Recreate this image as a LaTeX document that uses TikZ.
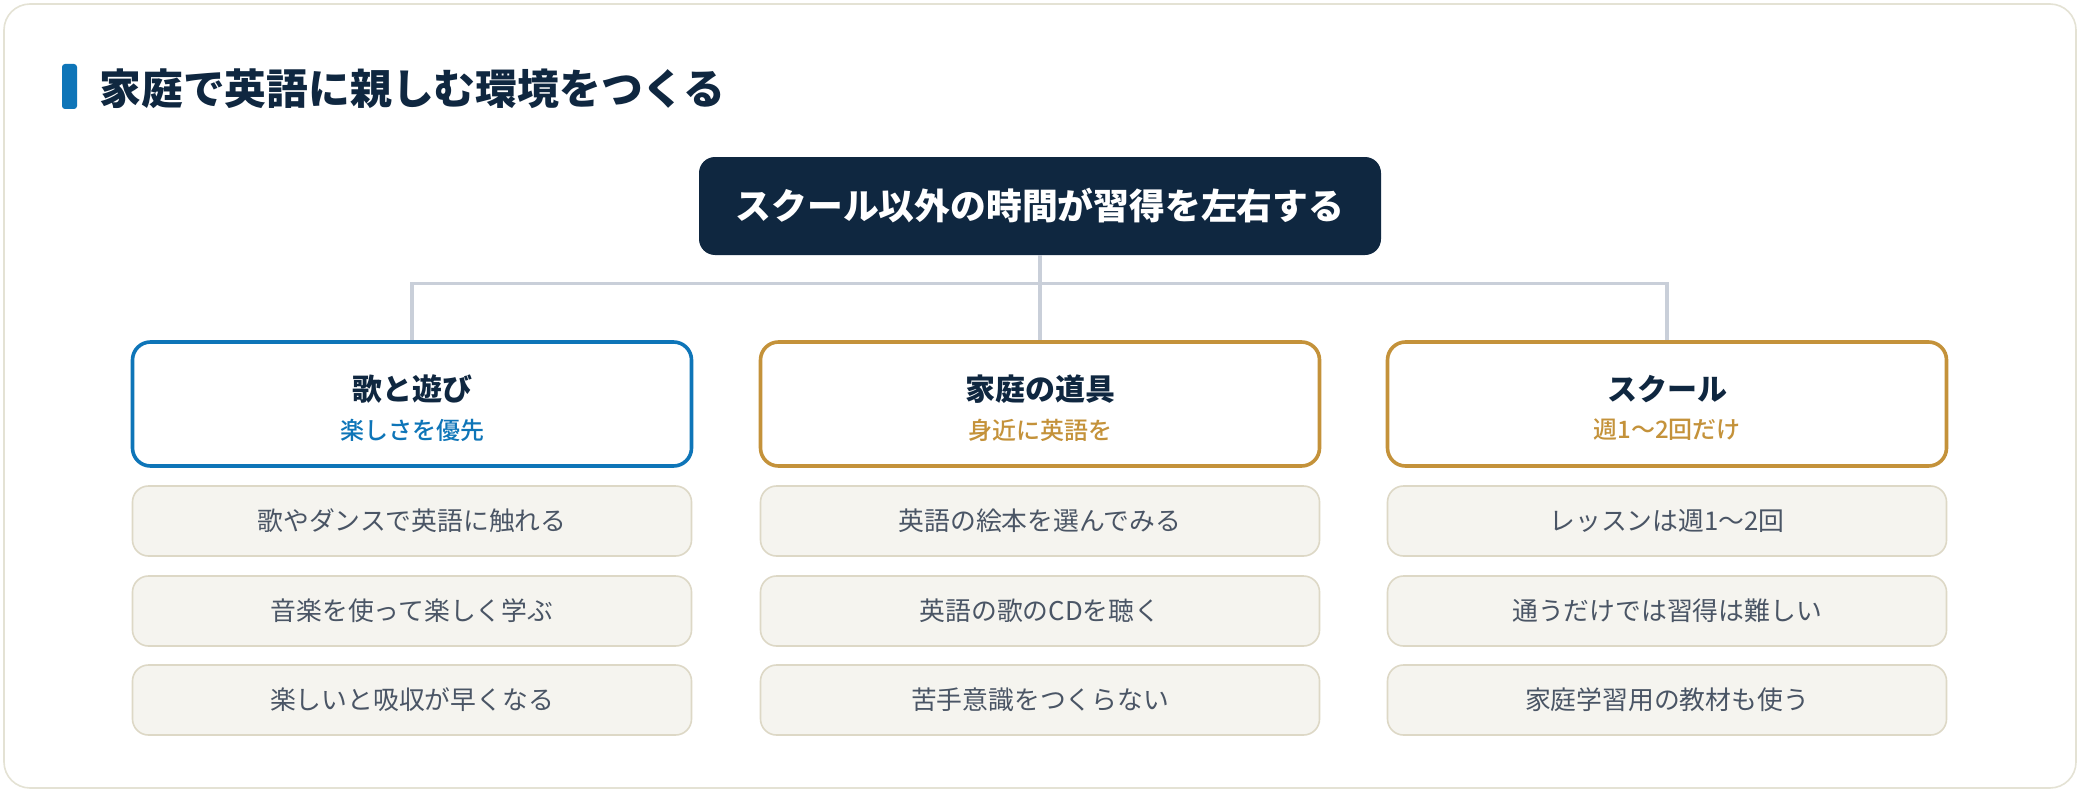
\documentclass[tikz,border=0pt]{standalone}
\usepackage{fontspec}
\setmainfont{Noto Sans CJK JP}
\newfontfamily\medfont{Noto Sans CJK JP Medium}
\usepackage{xcolor}
\usepackage{tikz}
\usetikzlibrary{calc}
\definecolor{navy}{HTML}{0F2740}
\definecolor{blueacc}{HTML}{0E75B8}
\definecolor{goldacc}{HTML}{C4923A}
\definecolor{linegray}{HTML}{C9CFD9}
\definecolor{itemfill}{HTML}{F5F4EF}
\definecolor{itemline}{HTML}{DDD8C6}
\definecolor{itemtext}{HTML}{4A5565}
\definecolor{framecol}{HTML}{E4E2D4}

\begin{document}
\begin{tikzpicture}[x=0.5pt, y=-0.5pt,
  hubbox/.style={fill=navy, rounded corners=8pt, minimum width=341pt, minimum height=49pt, inner sep=0pt, text=white, font=\fontsize{17.9pt}{20pt}\selectfont\bfseries},
  catbox/.style={draw=#1, line width=1.8pt, fill=white, rounded corners=9pt, minimum width=279.5pt, minimum height=62pt, inner sep=0pt},
  cattitle/.style={text=navy, font=\fontsize{15pt}{17pt}\selectfont\bfseries},
  catsub/.style={text=#1, font=\medfont\fontsize{12pt}{14pt}\selectfont},
  itembox/.style={draw=itemline, line width=0.8pt, fill=itemfill, rounded corners=8pt, minimum width=279.5pt, minimum height=35pt, inner sep=0pt, text=itemtext, font=\fontsize{12.9pt}{15pt}\selectfont},
  conn/.style={draw=linegray, line width=1.7pt}]
  \useasboundingbox (0,0) rectangle (2080,792);
  \draw[framecol, line width=0.8pt, fill=white, rounded corners=13pt] (4,4) rectangle (2076,788);
  % Heading
  \fill[blueacc, rounded corners=1.5pt] (62,64) rectangle (77,109);
  \node[anchor=west, inner sep=0pt, text=navy, font=\fontsize{20.9pt}{23pt}\selectfont\bfseries] (heading) at (99,89) {家庭で英語に親しむ環境をつくる};
  % Hub and categories
  \node[hubbox] (hub) at (1040,206) {スクール以外の時間が習得を左右する};
  \node[catbox=blueacc] (cat1) at (412,404) {};
  \node[catbox=goldacc] (cat2) at (1040,404) {};
  \node[catbox=goldacc] (cat3) at (1667,404) {};
  \draw[conn] (cat1.north) -- ++(0,-57) -| (cat3.north);
  \draw[conn] (hub.south) -- (cat2.north);
  \node[cattitle] (cat1t) at (412,389) {歌と遊び};
  \node[catsub=blueacc] (cat1s) at (412,430) {楽しさを優先};
  \node[cattitle] (cat2t) at (1040,389) {家庭の道具};
  \node[catsub=goldacc] (cat2s) at (1040,430) {身近に英語を};
  \node[cattitle] (cat3t) at (1667,389) {スクール};
  \node[catsub=goldacc] (cat3s) at (1667,430) {週1〜2回だけ};
  % Items: column 1
  \node[itembox] (i11) at (412,521) {歌やダンスで英語に触れる};
  \node[itembox] (i12) at (412,611) {音楽を使って楽しく学ぶ};
  \node[itembox] (i13) at (412,700) {楽しいと吸収が早くなる};
  % Items: column 2
  \node[itembox] (i21) at (1040,521) {英語の絵本を選んでみる};
  \node[itembox] (i22) at (1040,611) {英語の歌のCDを聴く};
  \node[itembox] (i23) at (1040,700) {苦手意識をつくらない};
  % Items: column 3
  \node[itembox] (i31) at (1667,521) {レッスンは週1〜2回};
  \node[itembox] (i32) at (1667,611) {通うだけでは習得は難しい};
  \node[itembox] (i33) at (1667,700) {家庭学習用の教材も使う};
\end{tikzpicture}
\end{document}
